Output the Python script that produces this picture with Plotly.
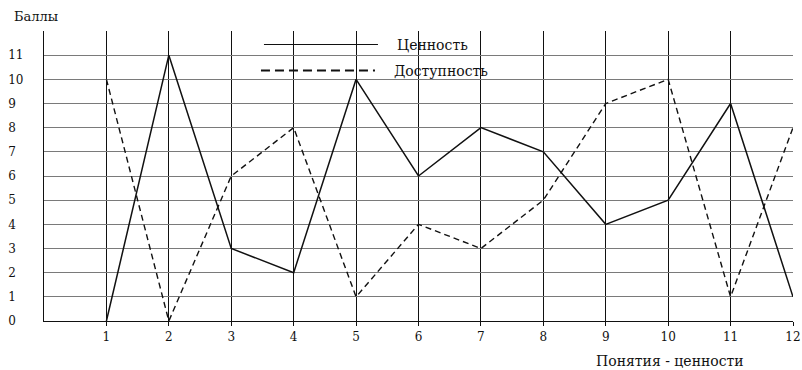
import plotly.graph_objects as go

concepts = [1, 2, 3, 4, 5, 6, 7, 8, 9, 10, 11, 12]
value_scores = [0, 11, 3, 2, 10, 6, 8, 7, 4, 5, 9, 1]
access_scores = [10, 0, 6, 8, 1, 4, 3, 5, 9, 10, 1, 8]
series_names = ["Ценность", "Доступность"]

y_ticks = list(range(0, 12))
y_labels = [str(v) + ("\u2007" if v < 10 else "") for v in y_ticks]

FONT = "DejaVu Serif, Liberation Serif, serif"
INK = "#111111"
HGRID = "#7a7a7a"

fig = go.Figure()
# data lines (legend shown by separate legend-only traces with heavier style)
fig.add_trace(go.Scatter(
    x=concepts, y=value_scores, mode="lines", name=series_names[0],
    line=dict(color=INK, width=1.5), showlegend=False))
fig.add_trace(go.Scatter(
    x=concepts, y=access_scores, mode="lines", name=series_names[1],
    line=dict(color=INK, width=1.4, dash="6px,4px"), showlegend=False))
fig.add_trace(go.Scatter(
    x=[None], y=[None], mode="lines", name="\u2003" + series_names[0],
    line=dict(color=INK, width=1.2), legend="legend"))
fig.add_trace(go.Scatter(
    x=[None], y=[None], mode="lines", name="\u2003" + series_names[1],
    line=dict(color=INK, width=2, dash="9px,5px"), legend="legend2"))

legend_common = dict(
    bgcolor="rgba(0,0,0,0)", borderwidth=0, itemwidth=114,
    font=dict(family=FONT, size=14, color=INK),
    xanchor="left", yanchor="middle", itemclick=False, itemdoubleclick=False,
)

fig.update_layout(
    width=802, height=370,
    margin=dict(l=44, r=9, t=31, b=49, autoexpand=False),
    paper_bgcolor="white", plot_bgcolor="white",
    font=dict(family=FONT, size=12, color=INK),
    showlegend=True,
    legend=dict(x=0.287, y=0.952, **legend_common),
    legend2=dict(x=0.283, y=0.862, **legend_common),
    xaxis=dict(
        range=[0, 12], tickvals=concepts, ticktext=[str(c) for c in concepts],
        showgrid=True, gridcolor=INK, gridwidth=1.2,
        zeroline=False, showline=True, linecolor=INK, linewidth=1.2,
        ticks="outside", ticklen=4, tickcolor=INK, tickwidth=1.2,
        ticklabeloverflow="allow", automargin=False,
        tickfont=dict(family=FONT, size=12, color=INK),
        fixedrange=True,
    ),
    yaxis=dict(
        range=[0, 12], tickvals=y_ticks + [12], ticktext=y_labels + [""],
        showgrid=True, gridcolor=HGRID, gridwidth=1,
        zeroline=False, showline=True, linecolor=INK, linewidth=1.2,
        ticks="", ticklabelstandoff=17, automargin=False,
        tickfont=dict(family=FONT, size=12, color=INK),
        fixedrange=True,
    ),
    annotations=[
        dict(text="Баллы", xref="paper", yref="paper", x=-32 / 749, y=1 + 14 / 290,
             xanchor="left", yanchor="middle", showarrow=False,
             font=dict(family=FONT, size=13, color=INK)),
        dict(text="Понятия - ценности", xref="paper", yref="paper",
             x=(670 - 44) / 749, y=-40 / 290, xanchor="center", yanchor="middle",
             showarrow=False, font=dict(family=FONT, size=14, color=INK)),
    ],
)

fig.write_html("out.html", config={"displayModeBar": False},
               post_script="document.body.style.margin='0';")
